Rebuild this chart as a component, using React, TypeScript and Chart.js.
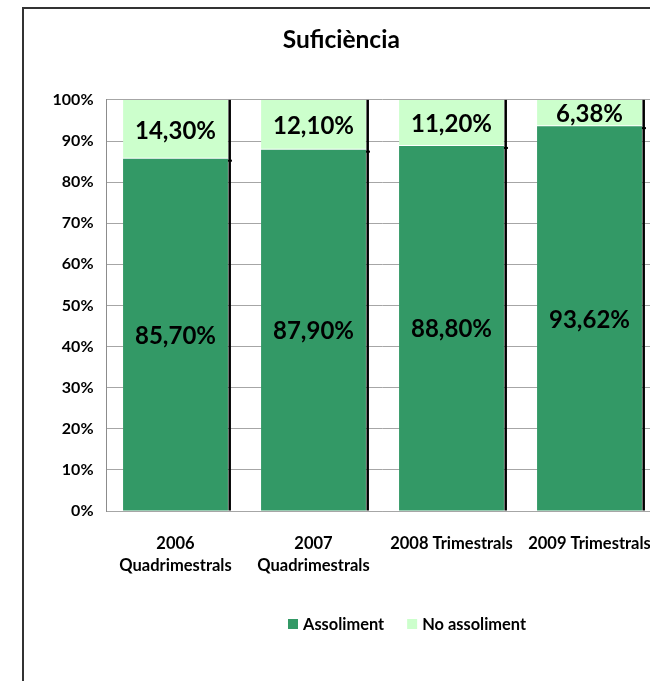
import React, { useEffect, useRef } from 'react';
import { Chart, registerables } from 'chart.js';

Chart.register(...registerables);

const categories: (string | string[])[] = [
  ['2006', 'Quadrimestrals'],
  ['2007', 'Quadrimestrals'],
  '2008 Trimestrals',
  '2009 Trimestrals',
];
const assoliment = [85.7, 87.9, 88.8, 93.62];
const noAssoliment = [14.3, 12.1, 11.2, 6.38];
const seriesNames = ['Assoliment', 'No assoliment'];
const seriesColors = ['#339966', '#CCFFCC'];
const chartTitle = 'Suficiència';

const FONT = 'Lato, "Noto Sans", sans-serif';

const fmt = (v: number) => v.toFixed(2).replace('.', ',') + '%';

const shadowPlugin = {
  id: 'barShadow',
  afterDatasetsDraw(chart: any) {
    const ctx = chart.ctx;
    const m0 = chart.getDatasetMeta(0);
    const m1 = chart.getDatasetMeta(1);
    ctx.save();
    ctx.fillStyle = '#000';
    m0.data.forEach((b: any, i: number) => {
      const t = m1.data[i];
      const xr = b.x + b.width / 2;
      ctx.fillRect(xr + 0.5, t.y, 2.5, b.base - t.y);
      ctx.fillRect(xr, b.y + 1, 4, 2);
    });
    ctx.restore();
  },
};

const labelPlugin = {
  id: 'valueLabels',
  afterDatasetsDraw(chart: any) {
    const ctx = chart.ctx;
    ctx.save();
    ctx.fillStyle = '#000';
    ctx.font = `bold 24px ${FONT}`;
    ctx.textAlign = 'center';
    ctx.textBaseline = 'middle';
    chart.data.datasets.forEach((ds: any, di: number) => {
      const meta = chart.getDatasetMeta(di);
      meta.data.forEach((el: any, i: number) => {
        ctx.fillText(fmt(ds.data[i]), el.x, (el.y + el.base) / 2 + 1.5);
      });
    });
    ctx.restore();
  },
};

const legendPlugin = {
  id: 'customLegend',
  afterDraw(chart: any) {
    const ctx = chart.ctx;
    ctx.save();
    ctx.font = `bold 16.4px ${FONT}`;
    ctx.textBaseline = 'middle';
    ctx.textAlign = 'left';
    const box = 10;
    const gap = 5;
    const itemGap = 23;
    const widths = seriesNames.map((n) => ctx.measureText(n).width);
    const total = widths.reduce((a, w) => a + box + gap + w, 0) + itemGap * (seriesNames.length - 1);
    const centerX = 383;
    const y = 615;
    let x = centerX - total / 2;
    seriesNames.forEach((n, i) => {
      ctx.fillStyle = seriesColors[i];
      ctx.fillRect(x, y - box / 2, box, box);
      x += box + gap;
      ctx.fillStyle = '#000';
      ctx.fillText(n, x, y + 1);
      x += widths[i] + itemGap;
    });
    ctx.restore();
  },
};

export default function App() {
  const ref = useRef<HTMLCanvasElement>(null);

  useEffect(() => {
    if (!ref.current) return;
    const chart = new Chart(ref.current, {
      type: 'bar',
      data: {
        labels: categories as any,
        datasets: [
          {
            label: seriesNames[0],
            data: assoliment,
            backgroundColor: seriesColors[0],
            borderWidth: 0,
            barPercentage: 0.76,
            categoryPercentage: 1,
          },
          {
            label: seriesNames[1],
            data: noAssoliment,
            backgroundColor: seriesColors[1],
            borderColor: '#ffffff',
            borderWidth: { top: 0, left: 0, right: 0, bottom: 1 },
            borderSkipped: false,
            barPercentage: 0.76,
            categoryPercentage: 1,
          },
        ],
      },
      options: {
        responsive: false,
        animation: false,
        devicePixelRatio: 1,
        layout: { padding: { left: 0, right: 5.5, top: 0, bottom: 0 } },
        plugins: {
          legend: { display: false },
          tooltip: { enabled: false },
          title: {
            display: true,
            text: chartTitle,
            color: '#000',
            font: { family: FONT, size: 24.5, weight: 'bold' },
            padding: { top: 16, bottom: 45.5 },
          },
        },
        scales: {
          x: {
            stacked: true,
            grid: { display: false, drawTicks: false },
            border: { display: true, color: '#a6a6a6', width: 1 },
            ticks: {
              color: '#000',
              font: { family: FONT, size: 16.5, weight: 'bold', lineHeight: 1.333 },
              padding: 22,
              maxRotation: 0,
              autoSkip: false,
            },
            afterFit: (s: any) => {
              s.height = 170;
              s.paddingLeft = 0;
              s.paddingRight = 0;
            },
          },
          y: {
            stacked: true,
            min: 0,
            max: 100,
            grid: { color: '#a6a6a6', drawTicks: false },
            border: { display: true, color: '#8c8c8c', width: 1 },
            ticks: {
              stepSize: 10,
              color: '#000',
              font: { family: FONT, size: 16, weight: 'bold' },
              padding: 13,
              callback: (v: any) => v + '%',
            },
            afterFit: (s: any) => {
              s.width = 82.5;
            },
          },
        },
      },
      plugins: [shadowPlugin, labelPlugin, legendPlugin],
    });
    return () => chart.destroy();
  }, []);

  return (
    <div
      style={{
        position: 'fixed',
        left: 0,
        top: 0,
        width: 650,
        height: 681,
        overflow: 'hidden',
        background: '#fff',
      }}
    >
      <div
        style={{
          position: 'absolute',
          left: 22,
          top: 7,
          width: 660,
          height: 700,
          borderLeft: '2px solid #333',
          borderTop: '2px solid #333',
        }}
      >
        <canvas ref={ref} width={640} height={672} style={{ display: 'block' }} />
      </div>
    </div>
  );
}
